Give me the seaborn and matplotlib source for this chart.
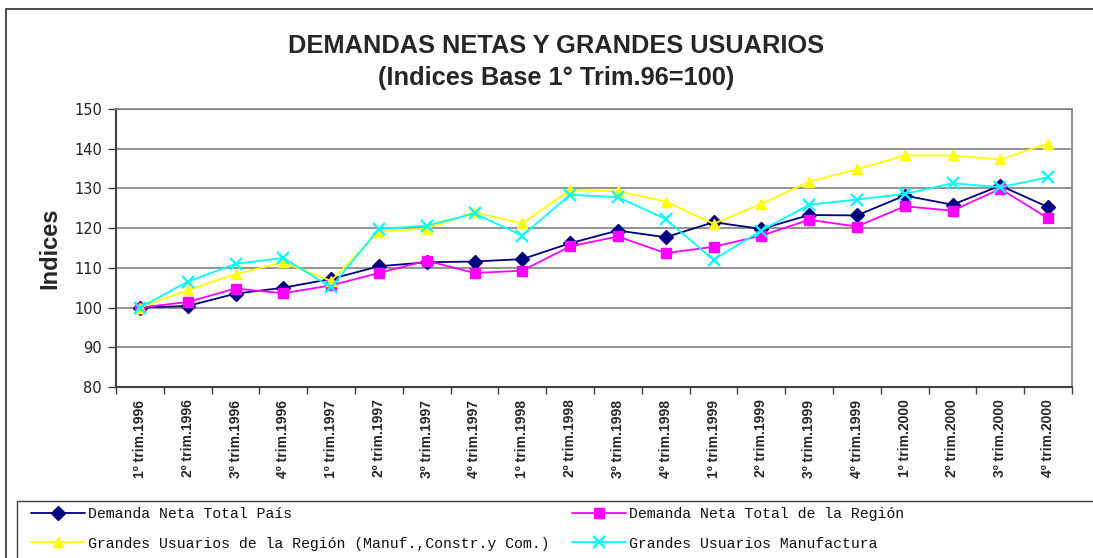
import matplotlib
matplotlib.use("Agg")
import matplotlib.pyplot as plt
from matplotlib.lines import Line2D
import seaborn as sns
import pandas as pd
import numpy as np

categories = ["1º trim.1996", "2º trim.1996", "3º trim.1996", "4º trim.1996",
              "1º trim.1997", "2º trim.1997", "3º trim.1997", "4º trim.1997",
              "1º trim.1998", "2º trim.1998", "3º trim.1998", "4º trim.1998",
              "1º trim.1999", "2º trim.1999", "3º trim.1999", "4º trim.1999",
              "1º trim.2000", "2º trim.2000", "3º trim.2000", "4º trim.2000"]

demanda_pais = [100, 100.4, 103.5, 105.0, 107.2, 110.4, 111.4, 111.6, 112.2, 116.2,
                119.4, 117.7, 121.5, 119.8, 123.3, 123.2, 128.2, 125.9, 130.7, 125.3]
demanda_region = [100, 101.4, 104.8, 103.6, 105.6, 108.7, 111.8, 108.7, 109.3, 115.4,
                  117.9, 113.7, 115.3, 118.1, 122.1, 120.4, 125.5, 124.4, 129.9, 122.5]
grandes_region = [100, 104.4, 108.4, 111.4, 106.7, 119.1, 119.9, 124.0, 121.2, 129.6,
                  129.3, 126.7, 121.1, 126.1, 131.7, 134.8, 138.3, 138.3, 137.3, 141.3]
grandes_manuf = [100, 106.5, 111.0, 112.5, 105.1, 119.8, 120.6, 123.7, 118.1, 128.4,
                 127.8, 122.3, 112.0, 119.4, 125.9, 127.2, 128.6, 131.3, 130.3, 132.8]

series_names = ["Demanda Neta Total País",
                "Demanda Neta Total de la Región",
                "Grandes Usuarios de la Región (Manuf.,Constr.y Com.)",
                "Grandes Usuarios Manufactura"]

sns.set_theme(style="white")
plt.rcParams['font.family'] = ['DejaVu Sans']

W, H = 1093, 558
fig = plt.figure(figsize=(W / 100, H / 100), dpi=100)
ax = fig.add_axes([116 / W, 1 - 387 / H, (1072 - 116) / W, (387 - 109) / H])

x = np.arange(len(categories))
styles = [
    (demanda_pais, "#000080", "D", 7.0, 1.0),
    (demanda_region, "#FF00FF", "s", 6.6, 1.0),
    (grandes_region, "#FFFF00", "^", 7.6, 1.0),
    (grandes_manuf, "#00FFFF", "x", 8.5, 1.6),
]
handles = []
for (vals, col, mk, ms, mew), name in zip(styles, series_names):
    df = pd.DataFrame({"x": x, "v": vals})
    sns.lineplot(data=df, x="x", y="v", ax=ax, color=col, marker=mk,
                 markersize=ms, markeredgecolor=col, markerfacecolor=col,
                 markeredgewidth=mew, linewidth=1.3, legend=False, zorder=3)
    handles.append(Line2D([], [], color=col, marker=mk, markersize=ms,
                          markeredgecolor=col, markerfacecolor=col,
                          markeredgewidth=mew, linewidth=1.3, label=name))

ax.set_xlim(-0.5, len(categories) - 0.5)
ax.set_ylim(80, 150)
ax.set_yticks(range(80, 151, 10))
ax.yaxis.grid(True, color="#808080", linewidth=1.2)
ax.xaxis.grid(False)
ax.set_axisbelow(True)

ax.set_xticks(x)
ax.set_xticklabels(categories, rotation=90, fontsize=10, fontweight="bold",
                   family="Liberation Sans")
ax.set_xticks(np.arange(-0.5, len(categories), 1), minor=True)
ax.tick_params(axis="x", which="major", length=0, pad=9)
ax.tick_params(axis="x", which="minor", length=5, width=1, color="#404040", bottom=True)
ax.tick_params(axis="y", which="major", length=6, width=1, color="#404040",
               labelsize=10.5, pad=4, left=True)
for lab in ax.get_yticklabels():
    lab.set_color("#222222")
ax.set_xlabel("")
ax.set_ylabel("Indices", fontsize=17, fontweight="bold", family="Liberation Sans",
              labelpad=9)

for s in ["left", "bottom"]:
    ax.spines[s].set_color("#404040")
    ax.spines[s].set_linewidth(1.5)
for s in ["top", "right"]:
    ax.spines[s].set_color("#808080")
    ax.spines[s].set_linewidth(1.2)

fig.text(556 / W, 1 - 46 / H, "DEMANDAS NETAS Y GRANDES USUARIOS",
         ha="center", va="center", fontsize=18.3, fontweight="bold",
         family="Liberation Sans")
fig.text(556 / W, 1 - 78 / H, "(Indices Base 1° Trim.96=100)",
         ha="center", va="center", fontsize=18.3, fontweight="bold",
         family="Liberation Sans")

# outer chart frame (left and top edges visible)
fig.add_artist(Line2D([6 / W, 6 / W], [0, 1 - 9 / H], transform=fig.transFigure,
                      color="#404040", linewidth=1.3))
fig.add_artist(Line2D([6 / W, 1], [1 - 9 / H, 1 - 9 / H], transform=fig.transFigure,
                      color="#404040", linewidth=1.3))
# legend frame
fig.add_artist(Line2D([17 / W, 17 / W], [0, 1 - 501 / H], transform=fig.transFigure,
                      color="#404040", linewidth=1.0))
fig.add_artist(Line2D([17 / W, 1], [1 - 501 / H, 1 - 501 / H], transform=fig.transFigure,
                      color="#404040", linewidth=1.0))

leg_kw = dict(frameon=False, handlelength=3.6, handletextpad=0.25,
              labelspacing=1.05, borderpad=0, borderaxespad=0, loc="upper left",
              prop={"family": "Liberation Mono", "size": 10.7})
l1 = fig.legend(handles=[handles[0], handles[2]], bbox_to_anchor=(31 / W, 1 - 507 / H),
                **leg_kw)
l2 = fig.legend(handles=[handles[1], handles[3]], bbox_to_anchor=(572 / W, 1 - 507 / H),
                **leg_kw)
for leg in (l1, l2):
    for t in leg.get_texts():
        t.set_color("#111111")

fig.savefig("out.png", dpi=100)
